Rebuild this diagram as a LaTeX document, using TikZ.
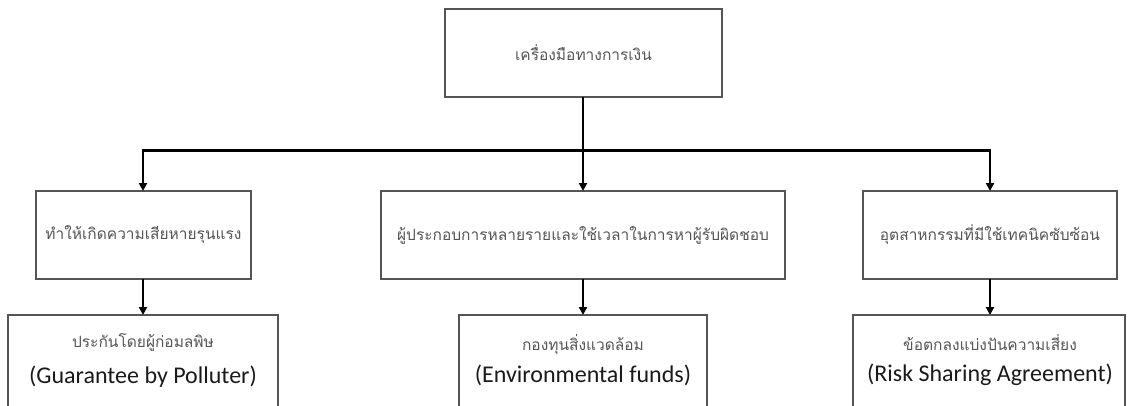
\documentclass[tikz,border=0pt]{standalone}
\usepackage{fontspec}
\usetikzlibrary{arrows.meta}
\newfontfamily\thaifont[Script=Thai]{Loma}
\newfontfamily\engfont{Carlito}
\definecolor{boxline}{HTML}{555555}
\definecolor{thaitxt}{HTML}{555555}
\definecolor{engtxt}{HTML}{1A1A1A}
\begin{document}
\begin{tikzpicture}[x=1pt,y=-1pt,
  box/.style={draw=boxline,line width=1.4pt,fill=white},
  th/.style={font=\thaifont\fontsize{15.5}{18}\selectfont,text=thaitxt,inner sep=0pt},
  en/.style={font=\engfont\fontsize{24}{28}\selectfont,text=engtxt,inner sep=0pt},
  conn/.style={line width=2.2pt,-{Triangle[length=8pt,width=8pt]}},
  bar/.style={line width=3pt}]
\useasboundingbox (0,0) rectangle (1130,405);
\clip (0,0) rectangle (1130,405);
% boxes
\draw[box] (445,9) rectangle (722,97);
\node[th] (top) at (583.5,53) {เครื่องมือทางการเงิน};
\coordinate (topb) at (583,97);

\draw[box] (36,191) rectangle (251,279);
\node[th] (m1) at (143.5,235) {ทำให้เกิดความเสียหายรุนแรง};
\draw[box] (381,191) rectangle (785,279);
\node[th] (m2) at (583,236) {ผู้ประกอบการหลายรายและใช้เวลาในการหาผู้รับผิดชอบ};
\draw[box] (863,191) rectangle (1117,279);
\node[th] (m3) at (990,235) {อุตสาหกรรมที่มีใช้เทคนิคซับซ้อน};

\draw[box] (8,315) rectangle (278,420);
\node[th] (b1t) at (143,343) {ประกันโดยผู้ก่อมลพิษ};
\node[en] (b1e) at (143,377) {(Guarantee by Polluter)};
\draw[box] (459,315) rectangle (707,420);
\node[th] (b2t) at (583,345) {กองทุนสิ่งแวดล้อม};
\node[en] (b2e) at (583,375) {(Environmental funds)};
\draw[box] (853,315) rectangle (1125,420);
\node[th] (b3t) at (990,343) {ข้อตกลงแบ่งปันความเสี่ยง};
\node[en] (b3e) at (990,375) {(Risk Sharing Agreement)};

% connectors
\coordinate (j) at (583,150);
\coordinate (jl) at (143,150);
\coordinate (jr) at (990,150);
\coordinate (m1t) at (143,191);
\coordinate (m2t) at (583,191);
\coordinate (m3t) at (990,191);
\coordinate (m1b) at (143,279);
\coordinate (m2b) at (583,279);
\coordinate (m3b) at (990,279);
\coordinate (b1top) at (143,315);
\coordinate (b2top) at (583,315);
\coordinate (b3top) at (990,315);
\draw[bar] ([xshift=-1.1pt]jl) -- ([xshift=1.1pt]jr);
\draw[conn] (topb) -- (m2t);
\draw[conn] ([yshift=-1.5pt]jl) -- (m1t);
\draw[conn] ([yshift=-1.5pt]jr) -- (m3t);
\draw[conn] (m1b) -- (b1top);
\draw[conn] (m2b) -- (b2top);
\draw[conn] (m3b) -- (b3top);
\end{tikzpicture}
\end{document}
